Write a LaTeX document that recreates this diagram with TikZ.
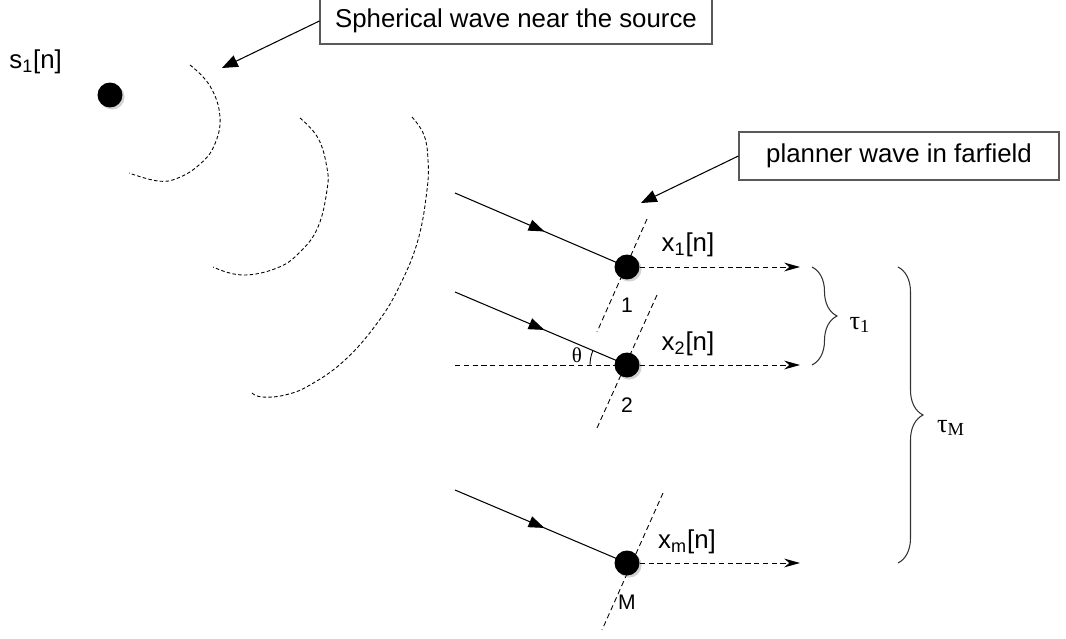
\documentclass[tikz,border=0pt]{standalone}
\usepackage{fontspec}
\setmainfont{Liberation Sans}
\newfontfamily\serifgreek{Liberation Serif}
\usetikzlibrary{arrows.meta,decorations.markings,decorations.pathreplacing,shadows}
\begin{document}
\begin{tikzpicture}[x=0.02cm,y=-0.02cm,
  dot/.style={circle,fill=black,minimum size=0.5cm,inner sep=0pt,
    drop shadow={shadow xshift=1.2pt,shadow yshift=-1.2pt,opacity=0.35,fill=gray}},
  callbox/.style={draw=black!65,line width=0.7pt,fill=white,inner sep=0pt,font=\fontsize{14.7}{16}\selectfont},
  callout/.style={line width=0.6pt,-{Triangle[length=9pt,width=7pt]}},
  ray/.style={line width=0.6pt,postaction={decorate},
    decoration={markings,mark=at position 0.52 with {\arrow{Triangle[length=9pt,width=6.5pt]}}}},
  outray/.style={dashed,dash pattern=on 3pt off 2pt,line width=0.5pt,-{Stealth[length=9pt,width=5pt]}},
  wave/.style={dashed,dash pattern=on 2pt off 1.3pt,line width=0.5pt},
  front/.style={dashed,dash pattern=on 3pt off 2pt,line width=0.5pt},
  lbl/.style={font=\fontsize{14.7}{16}\selectfont,inner sep=0pt},
  num/.style={font=\fontsize{12}{14}\selectfont,inner sep=0pt},
  greek/.style={font=\serifgreek\fontsize{15}{17}\selectfont,inner sep=0pt},
  curly/.style={decorate,decoration={brace,amplitude=0.5cm},line width=0.6pt,black!80}
]
\useasboundingbox (0,0) rectangle (1066,639);

% source
\node[dot] (src) at (110,95) {};
\node[lbl,anchor=west] (slab) at (9,62) {s\textsubscript{1}[n]};

% spherical wavefronts
\draw[wave] plot[smooth,tension=0.7] coordinates {(190,65) (210,86) (220,117) (214,146) (199,165) (178,178) (158,181) (129,173)};
\draw[wave] plot[smooth,tension=0.7] coordinates {(300,118) (318,138) (327,168) (327,190) (318,227) (300,252) (277,268) (242,275) (213,267)};
\draw[wave] plot[smooth,tension=0.7] coordinates {(412,117) (424,135) (428,160) (427,190) (418,240) (400,285) (378,322) (345,360) (310,385) (285,395) (262,397) (252,393)};

% callout boxes
\node[callbox,minimum width=7.84cm,minimum height=0.92cm] (box1) at (516,21) {Spherical wave near the source};
\coordinate (tip1) at (222,68);
\draw[callout] (box1.west) -- (tip1);

\node[callbox,minimum width=6.4cm,minimum height=0.96cm] (box2) at (899,156) {planner wave in farfield};
\coordinate (tip2) at (641,203);
\draw[callout] (box2.west) -- (tip2);

% wavefront lines through sensors
\coordinate (f1a) at (647,219); \coordinate (f1b) at (597,332);
\coordinate (f2a) at (657,295); \coordinate (f2b) at (597,428);
\coordinate (fMa) at (663,493); \coordinate (fMb) at (602,630);
\draw[front] (f1a) -- (f1b);
\draw[front] (f2a) -- (f2b);
\draw[front] (fMa) -- (fMb);

% sensors
\node[dot] (s1) at (627,267) {};
\node[dot] (s2) at (627,365) {};
\node[dot] (sM) at (627,563) {};

% incoming rays
\coordinate (r1) at (455,193);
\coordinate (r2) at (455,292);
\coordinate (rM) at (455,490);
\coordinate (h2) at (455,365);
\draw[ray] (r1) -- (s1.center);
\draw[ray] (r2) -- (s2.center);
\draw[ray] (rM) -- (sM.center);
\draw[front] (h2) -- (s2.center);
\draw[line width=0.5pt] (s2.center) ++(180:37) arc[start angle=180,end angle=203,radius=37];
\node[greek,font=\serifgreek\fontsize{12}{14}\selectfont] (theta) at (577,355) {θ};

% outgoing signals
\coordinate (o1) at (800,267);
\coordinate (o2) at (800,365);
\coordinate (oM) at (800,563);
\draw[outray] (s1) -- (o1);
\draw[outray] (s2) -- (o2);
\draw[outray] (sM) -- (oM);

\node[lbl] (x1) at (688,245) {x\textsubscript{1}[n]};
\node[lbl] (x2) at (688,344) {x\textsubscript{2}[n]};
\node[lbl] (xm) at (687,542) {x\textsubscript{m}[n]};

\node[num] (n1) at (627,305) {1};
\node[num] (n2) at (627,405) {2};
\node[num] (nM) at (627,602) {M};

% braces
\coordinate (b1a) at (812,267); \coordinate (b1b) at (812,365);
\coordinate (bMa) at (898,267); \coordinate (bMb) at (898,563);
\draw[curly] (b1a) -- (b1b);
\draw[curly] (bMa) -- (bMb);
\node[greek] (tau1) at (860,325) {τ\textsubscript{1}};
\node[greek] (tauM) at (951,428) {τ\textsubscript{M}};
\end{tikzpicture}
\end{document}
